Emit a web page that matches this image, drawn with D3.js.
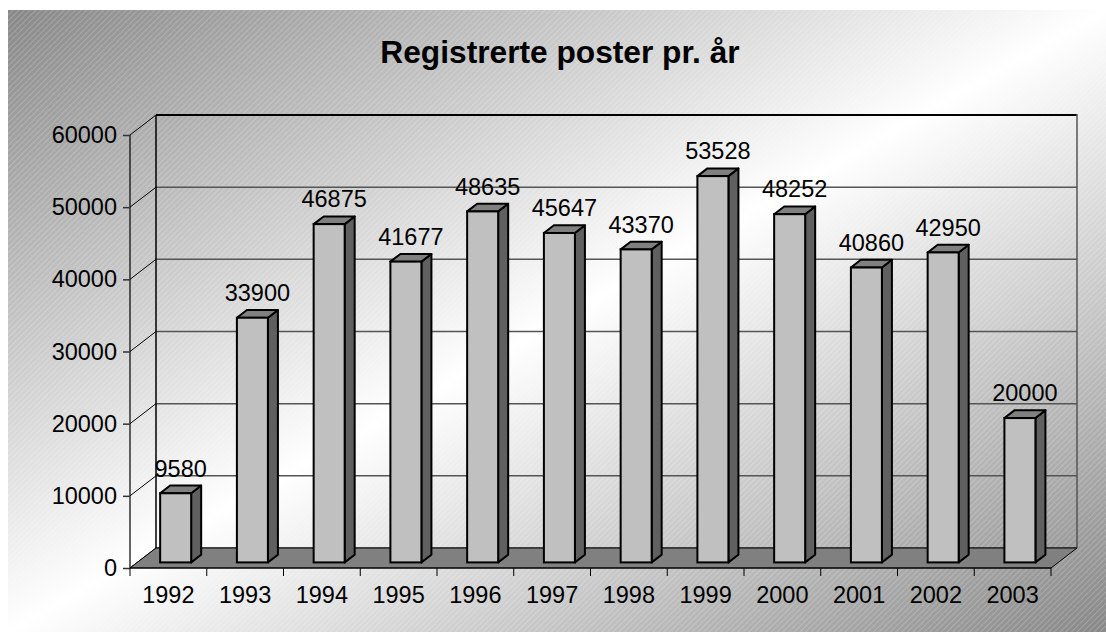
<!DOCTYPE html>
<html>
<head>
<meta charset="utf-8">
<script src="https://cdn.jsdelivr.net/npm/d3@7"></script>
<style>
  html, body { margin: 0; padding: 0; background: #fff; }
  svg { display: block; }
  text { font-family: "Liberation Sans", Arial, sans-serif; fill: #000; }
</style>
</head>
<body>
<script>
// ---- data ----
const title = "Registrerte poster pr. år";
const years = ["1992","1993","1994","1995","1996","1997","1998","1999","2000","2001","2002","2003"];
const values = [9580, 33900, 46875, 41677, 48635, 45647, 43370, 53528, 48252, 40860, 42950, 20000];
const yTicks = [0, 10000, 20000, 30000, 40000, 50000, 60000];

// ---- layout ----
const W = 1106, H = 632;
const svg = d3.select("body").append("svg").attr("width", W).attr("height", H);

const defs = svg.append("defs");
const grad = defs.append("linearGradient").attr("id", "bg")
  .attr("x1", 0).attr("y1", 0).attr("x2", 1).attr("y2", 1);
grad.append("stop").attr("offset", 0).attr("stop-color", "#888888");
grad.append("stop").attr("offset", 0.5).attr("stop-color", "#ffffff");
grad.append("stop").attr("offset", 1).attr("stop-color", "#888888");

const pat = defs.append("pattern").attr("id", "hatch")
  .attr("patternUnits", "userSpaceOnUse").attr("width", 4).attr("height", 4)
  .attr("patternTransform", "rotate(45)");
pat.append("line").attr("x1", 0).attr("y1", 0).attr("x2", 0).attr("y2", 4)
  .attr("stroke", "#ffffff").attr("stroke-width", 1).attr("stroke-opacity", 0.4);

svg.append("rect").attr("x", 8).attr("y", 10).attr("width", W - 8).attr("height", H - 10)
  .attr("fill", "url(#bg)");
svg.append("rect").attr("x", 8).attr("y", 10).attr("width", W - 8).attr("height", H - 10)
  .attr("fill", "url(#hatch)");

svg.append("text").attr("x", 560).attr("y", 63).attr("text-anchor", "middle")
  .attr("font-size", 31.7).attr("font-weight", "bold").text(title);

// scales (front plane)
const x = d3.scaleBand().domain(years).range([130, 1051]).paddingInner(0).paddingOuter(0);
const y = d3.scaleLinear().domain([0, 60000]).range([568, 135]);
const DX = 26, DY = -20;           // wall depth
const x0 = x.range()[0], x1 = x.range()[1];

// back wall gridlines + left wall diagonals
const g = svg.append("g");
g.selectAll("line.grid").data(yTicks).join("line").attr("class", "grid")
  .attr("x1", x0 + DX).attr("x2", x1 + DX)
  .attr("y1", d => y(d) + DY).attr("y2", d => y(d) + DY)
  .attr("stroke", d => d === 60000 ? "#000" : "#555")
  .attr("stroke-width", d => d === 60000 ? 2 : 1.5);
g.selectAll("line.diag").data(yTicks).join("line").attr("class", "diag")
  .attr("x1", x0).attr("y1", d => y(d))
  .attr("x2", x0 + DX).attr("y2", d => y(d) + DY)
  .attr("stroke", "#000").attr("stroke-width", 1);
// back wall left & right edges
g.append("line").attr("x1", x0 + DX).attr("x2", x0 + DX)
  .attr("y1", y(0) + DY).attr("y2", y(60000) + DY)
  .attr("stroke", "#000").attr("stroke-width", 1.5);
g.append("line").attr("x1", x1 + DX).attr("x2", x1 + DX)
  .attr("y1", y(0) + DY).attr("y2", y(60000) + DY - 1)
  .attr("stroke", "#555").attr("stroke-width", 1.5);

// floor
g.append("path")
  .attr("d", `M${x0},${y(0)}L${x1},${y(0)}L${x1 + DX},${y(0) + DY}L${x0 + DX},${y(0) + DY}Z`)
  .attr("fill", "#808080").attr("stroke", "#000").attr("stroke-width", 1);

// front y axis
const yAxis = d3.axisLeft(y).tickValues(yTicks).tickSize(7).tickPadding(6)
  .tickFormat(d3.format("d"));
const ya = svg.append("g").attr("transform", `translate(${x0},0)`).call(yAxis);
ya.select(".domain").attr("stroke", "#000").attr("stroke-width", 1.2).attr("d", `M0,${y(60000)}V${y(0)}`);
ya.selectAll(".tick line").attr("stroke", "#333").attr("stroke-width", 1.5);
ya.selectAll(".tick text").attr("font-size", 23.5).attr("font-family", "Liberation Sans, Arial, sans-serif").attr("fill", "#000");

// bottom axis: ticks at band edges, labels centered
const edges = years.map(d => x(d)).concat([x1]);
svg.selectAll("line.xt").data(edges).join("line").attr("class", "xt")
  .attr("x1", d => d).attr("x2", d => d).attr("y1", y(0)).attr("y2", y(0) + 8)
  .attr("stroke", "#000").attr("stroke-width", 1);
svg.append("line").attr("x1", x0).attr("x2", x1).attr("y1", y(0)).attr("y2", y(0))
  .attr("stroke", "#000").attr("stroke-width", 1.2);
svg.selectAll("text.xl").data(years).join("text").attr("class", "xl")
  .attr("x", d => x(d) + x.bandwidth() / 2).attr("y", 603)
  .attr("text-anchor", "middle").attr("font-size", 23.5).text(d => d);

// bars
const bw = x.bandwidth() * 0.404;
const ox = DX * 0.28, oy = DY * 0.28;      // bar front offset into depth
const bdx = DX * 0.385, bdy = DY * 0.385;  // bar depth
const data = years.map((yr, i) => ({ yr, v: values[i] }));
const bars = svg.append("g").selectAll("g").data(data).join("g");
bars.each(function(d) {
  const gb = d3.select(this);
  const fx = x(d.yr) + x.bandwidth() / 2 - bw / 2 + ox;
  const fb = y(0) + oy;
  const ft = y(d.v) + oy;
  // side
  gb.append("path")
    .attr("d", `M${fx + bw},${fb}L${fx + bw + bdx},${fb + bdy}L${fx + bw + bdx},${ft + bdy}L${fx + bw},${ft}Z`)
    .attr("fill", "#606060").attr("stroke", "#000").attr("stroke-width", 2).attr("stroke-linejoin", "round");
  // top
  gb.append("path")
    .attr("d", `M${fx},${ft}L${fx + bdx},${ft + bdy}L${fx + bw + bdx},${ft + bdy}L${fx + bw},${ft}Z`)
    .attr("fill", "#808080").attr("stroke", "#000").attr("stroke-width", 2).attr("stroke-linejoin", "round");
  // front
  gb.append("rect").attr("x", fx).attr("y", ft).attr("width", bw).attr("height", fb - ft)
    .attr("fill", "#c0c0c0").attr("stroke", "#000").attr("stroke-width", 2);
  // label
  gb.append("text").attr("x", fx + bw / 2 + bdx / 2).attr("y", ft + bdy - 9)
    .attr("text-anchor", "middle").attr("font-size", 23.5).text(d.v);
});
</script>
</body>
</html>
